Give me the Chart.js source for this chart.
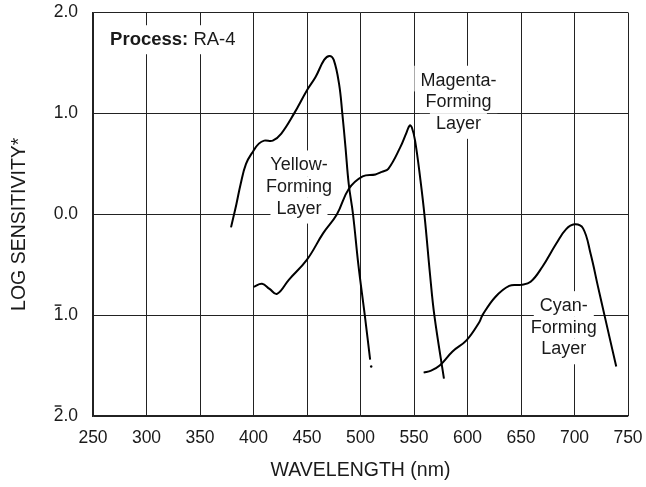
<!DOCTYPE html>
<html>
<head>
<meta charset="utf-8">
<script src="https://cdn.jsdelivr.net/npm/chart.js@4.4.1/dist/chart.umd.min.js"></script>
<style>
  html, body { margin: 0; padding: 0; background: #fff; }
  #wrap { width: 646px; height: 487px; }
</style>
</head>
<body>
<div id="wrap"><canvas id="sensChart" width="646" height="487"></canvas></div>
<script>
// axis ticks
const xTicks = [250, 300, 350, 400, 450, 500, 550, 600, 650, 700, 750];
const xTickLabels = ['250', '300', '350', '400', '450', '500', '550', '600', '650', '700', '750'];
const yTicks = [-2, -1, 0, 1, 2];
const yTickLabels = ['2.0', '1.0', '0.0', '1.0', '2.0'];
const yTickBar = [true, true, false, false, false]; // "bar" notation for negative characteristics

// curves (nm, log sensitivity)
const yellowNm  = [379, 384, 388, 393, 400, 405, 410, 418, 426, 438, 450, 458, 466, 471, 475, 480, 483, 486, 489, 493, 498, 504, 509];
const yellowLog = [-0.13, 0.1, 0.3, 0.5, 0.63, 0.7, 0.73, 0.73, 0.8, 1.0, 1.23, 1.36, 1.53, 1.57, 1.53, 1.29, 1.0, 0.66, 0.3, 0.0, -0.5, -1.0, -1.44];

const magentaNm  = [400, 408, 415, 422, 433, 450, 465, 478, 489, 502, 514, 520, 526, 537, 543, 546, 548, 551, 556, 560, 565, 569, 578];
const magentaLog = [-0.72, -0.69, -0.74, -0.79, -0.65, -0.45, -0.19, 0.0, 0.25, 0.375, 0.395, 0.42, 0.45, 0.66, 0.81, 0.88, 0.86, 0.73, 0.34, -0.03, -0.6, -1.0, -1.63];

const cyanNm  = [559, 566, 574, 586, 599, 611, 614, 626, 639, 650, 659, 670, 683, 692, 700, 708, 715, 722, 728, 739];
const cyanLog = [-1.57, -1.55, -1.5, -1.36, -1.25, -1.07, -1.0, -0.82, -0.71, -0.7, -0.67, -0.52, -0.29, -0.15, -0.1, -0.14, -0.39, -0.72, -1.0, -1.51];

const strayNm = [510];
const strayLog = [-1.51];

const FONT = "'Liberation Sans', Arial, Helvetica, sans-serif";
const INK = '#1a1a1a';
const TICK_FONT = `17.5px ${FONT}`;

function toPoints(xs, ys) {
  return xs.map((x, i) => ({ x, y: ys[i] }));
}

// text blocks sitting on white patches over the grid
const notes = [
  { lines: ['Yellow-', 'Forming', 'Layer'], x: 442.5, y: 0.27 },
  { lines: ['Magenta-', 'Forming', 'Layer'], x: 591.5, y: 1.11 },
  { lines: ['Cyan-', 'Forming', 'Layer'], x: 690, y: -1.125 }
];

const layerLabels = {
  id: 'layerLabels',
  beforeDatasetsDraw(chart) {
    const { ctx, scales: { x, y } } = chart;
    const lh = 21.7;
    ctx.save();
    ctx.textBaseline = 'middle';

    notes.forEach(n => {
      const cx = x.getPixelForValue(n.x);
      const cy = y.getPixelForValue(n.y);
      const top = cy - lh * n.lines.length / 2;
      ctx.font = `18px ${FONT}`;
      n.lines.forEach((t, i) => {
        const w = ctx.measureText(t).width;
        const ly = top + lh * i;
        const padTop = i === 0 ? 4 : 0;
        const padBot = i === n.lines.length - 1 ? 4 : 0;
        ctx.fillStyle = '#fff';
        ctx.fillRect(cx - w / 2 - 6, ly - padTop, w + 12, lh + padTop + padBot);
      });
      ctx.fillStyle = INK;
      ctx.textAlign = 'center';
      n.lines.forEach((t, i) => {
        ctx.fillText(t, cx, top + lh * i + lh / 2);
      });
    });

    // Process: RA-4
    const px = x.getPixelForValue(266);
    const py = y.getPixelForValue(1.73);
    ctx.font = `bold 18.5px ${FONT}`;
    const boldPart = 'Process: ';
    const wb = ctx.measureText(boldPart).width;
    ctx.font = `18.5px ${FONT}`;
    const wr = ctx.measureText('RA-4').width;
    ctx.fillStyle = '#fff';
    ctx.fillRect(px - 6, py - 14.5, wb + wr + 12, 29);
    ctx.fillStyle = INK;
    ctx.textAlign = 'left';
    ctx.font = `bold 18.5px ${FONT}`;
    ctx.fillText(boldPart, px, py);
    ctx.font = `18.5px ${FONT}`;
    ctx.fillText('RA-4', px + wb, py);
    ctx.restore();
  },
  afterDraw(chart) {
    const { ctx, chartArea, scales: { y } } = chart;
    ctx.save();

    // bars over the first digit of the negative tick labels
    ctx.font = TICK_FONT;
    ctx.strokeStyle = INK;
    ctx.lineWidth = 1.4;
    yTicks.forEach((v, i) => {
      if (!yTickBar[i]) return;
      const right = chartArea.left - 15;
      const left = right - ctx.measureText(yTickLabels[i]).width;
      const dw = ctx.measureText(yTickLabels[i][0]).width;
      const by = y.getPixelForValue(v) - 10;
      ctx.beginPath();
      ctx.moveTo(left + 1, by);
      ctx.lineTo(left + dw - 2, by);
      ctx.stroke();
    });

    // y axis title, sits a little below the plot centre in the original
    ctx.translate(20, (chartArea.top + chartArea.bottom) / 2 + 10);
    ctx.rotate(-Math.PI / 2);
    ctx.font = `19.5px ${FONT}`;
    ctx.fillStyle = INK;
    ctx.textAlign = 'center';
    ctx.textBaseline = 'middle';
    ctx.fillText('LOG SENSITIVITY*', 0, 0);
    ctx.restore();
  }
};

const curve = (data) => ({
  data,
  borderColor: '#000',
  borderWidth: 2,
  pointRadius: 0,
  fill: false,
  tension: 0.4
});

const ctx = document.getElementById('sensChart').getContext('2d');

new Chart(ctx, {
  type: 'line',
  data: {
    datasets: [
      curve(toPoints(yellowNm, yellowLog)),
      curve(toPoints(magentaNm, magentaLog)),
      curve(toPoints(cyanNm, cyanLog)),
      {
        data: toPoints(strayNm, strayLog),
        showLine: false,
        pointRadius: 1.2,
        pointBackgroundColor: '#000',
        pointBorderWidth: 0
      }
    ]
  },
  options: {
    responsive: false,
    animation: false,
    events: [],
    layout: { padding: { left: 0, top: 12.5, right: 18, bottom: 0 } },
    plugins: {
      legend: { display: false },
      tooltip: { enabled: false }
    },
    scales: {
      x: {
        type: 'linear',
        min: 250,
        max: 750,
        afterFit: (scale) => {
          scale.height = 71;
          scale.paddingLeft = 0;
          scale.paddingRight = 0;
        },
        afterBuildTicks: (scale) => { scale.ticks = xTicks.map(v => ({ value: v })); },
        ticks: {
          padding: 12,
          maxRotation: 0,
          color: INK,
          font: { family: FONT, size: 17.5 },
          callback: (v) => xTickLabels[xTicks.indexOf(v)]
        },
        grid: { color: '#222', lineWidth: 1, drawTicks: false },
        border: { display: true, color: '#222', width: 1.2 },
        title: {
          display: true,
          text: 'WAVELENGTH (nm)',
          color: INK,
          font: { family: FONT, size: 19.5, lineHeight: 1.2 },
          padding: { top: 0, bottom: 5 }
        }
      },
      y: {
        type: 'linear',
        min: -2,
        max: 2,
        afterFit: (scale) => {
          scale.width = 93;
          scale.paddingTop = 0;
          scale.paddingBottom = 0;
        },
        afterBuildTicks: (scale) => { scale.ticks = yTicks.map(v => ({ value: v })); },
        ticks: {
          padding: 15,
          color: INK,
          font: { family: FONT, size: 17.5 },
          callback: (v) => yTickLabels[yTicks.indexOf(v)]
        },
        grid: { color: '#222', lineWidth: 1, drawTicks: false },
        border: { display: true, color: '#222', width: 1.2 }
      }
    }
  },
  plugins: [layerLabels]
});
</script>
</body>
</html>
